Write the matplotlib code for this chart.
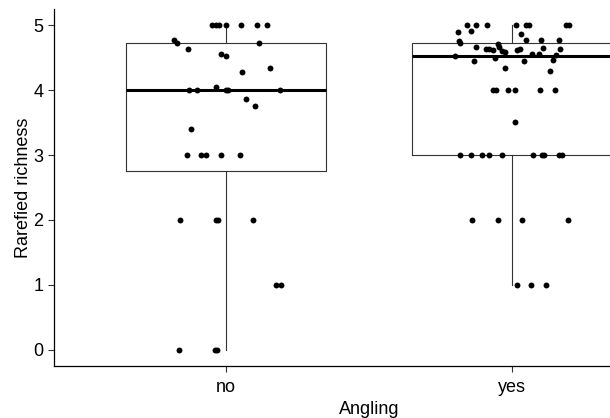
import numpy as np
import matplotlib
matplotlib.use('Agg')
import matplotlib.pyplot as plt

plt.rcParams['font.family'] = ['Liberation Sans', 'DejaVu Sans']

groups = ['no', 'yes']

# box statistics
q1 = [2.75, 3.0]
med = [4.0, 4.53]
q3 = [4.73, 4.73]
wlo = [0.0, 1.0]
whi = [5.0, 5.0]

# jittered points: richness values and horizontal jitter
no_y = [5, 5, 5, 5, 5, 5, 5,
        4.78, 4.73, 4.64, 4.73, 4.56, 4.53, 4.28, 4.34,
        4, 4, 4, 4, 4, 4.05, 3.86, 3.76, 3.40,
        3, 3, 3, 3, 3, 2, 2, 2, 2, 1, 1, 0, 0, 0]
no_jit = [-0.047, -0.033, -0.024, 0.002, 0.053, 0.111, 0.144,
          -0.182, -0.169, -0.133, 0.116, -0.016, 0.001, 0.056, 0.154,
          -0.128, -0.102, 0.002, 0.009, 0.191, -0.033, 0.070, 0.102, -0.122,
          -0.137, -0.085, -0.070, -0.015, 0.050, -0.158, -0.035, -0.026, 0.095,
          0.175, 0.192, -0.163, -0.037, -0.030]

yes_y = [5, 5, 5, 5, 5, 5, 5, 5,
         4.89, 4.91, 4.86, 4.75, 4.72, 4.77, 4.78, 4.78,
         4.66, 4.64, 4.63, 4.62, 4.71, 4.66, 4.60, 4.59, 4.62, 4.64, 4.65, 4.64,
         4.53, 4.50, 4.55, 4.56, 4.54, 4.45, 4.45, 4.46, 4.34, 4.29,
         4, 4, 4, 4, 4, 4, 3.51,
         3, 3, 3, 3, 3, 3, 3, 3, 3, 3,
         2, 2, 2, 2, 1, 1, 1]
yes_jit = [-0.156, -0.127, -0.086, 0.015, 0.051, 0.060, 0.189, 0.200,
           -0.190, -0.142, 0.033, -0.186, -0.181, 0.048, 0.101, 0.164,
           -0.126, -0.091, -0.081, -0.067, -0.048, -0.044, -0.033, -0.023, 0.019, 0.028, 0.108, 0.168,
           -0.198, -0.058, 0.071, 0.094, 0.155, -0.133, 0.042, 0.142, -0.023, 0.134,
           -0.065, -0.056, -0.012, 0.012, 0.097, 0.151, 0.012,
           -0.183, -0.142, -0.104, -0.081, -0.034, 0.074, 0.105, 0.112, 0.164, 0.175,
           -0.140, -0.050, 0.036, 0.196, 0.017, 0.067, 0.119]

fig = plt.figure(figsize=(6.10, 4.18), dpi=100)
ax = fig.add_axes([54/610, 1-366/418, (683.6-54)/610, (366-9)/418])

stats = []
for i in range(2):
    stats.append(dict(med=med[i], q1=q1[i], q3=q3[i], whislo=wlo[i], whishi=whi[i], fliers=[]))
ax.bxp(stats, positions=[1, 2], widths=0.7, showfliers=False,
       boxprops=dict(color='#333333', linewidth=0.8),
       whiskerprops=dict(color='#333333', linewidth=0.8),
       capprops=dict(linewidth=0),
       medianprops=dict(color='black', linewidth=2.2),
       zorder=1)

ax.scatter(1 + np.array(no_jit), no_y, s=18, color='black', zorder=3, linewidths=0)
ax.scatter(2 + np.array(yes_jit), yes_y, s=18, color='black', zorder=3, linewidths=0)

ax.set_xlim(0.4, 2.6)
ax.set_ylim(-0.25, 5.25)
ax.set_xticks([1, 2])
ax.set_xticklabels(groups)
ax.set_yticks([0, 1, 2, 3, 4, 5])
ax.tick_params(labelsize=13, length=4, width=0.8, color='#333333', labelcolor='black')
ax.tick_params(axis='x', pad=5)
for s in ['top', 'right']:
    ax.spines[s].set_visible(False)
for s in ['left', 'bottom']:
    ax.spines[s].set_linewidth(0.9)
ax.set_xlabel('Angling', fontsize=13, labelpad=4)
ax.set_ylabel('Rarefied richness', fontsize=13, labelpad=1)

fig.savefig('out.png', dpi=100)
